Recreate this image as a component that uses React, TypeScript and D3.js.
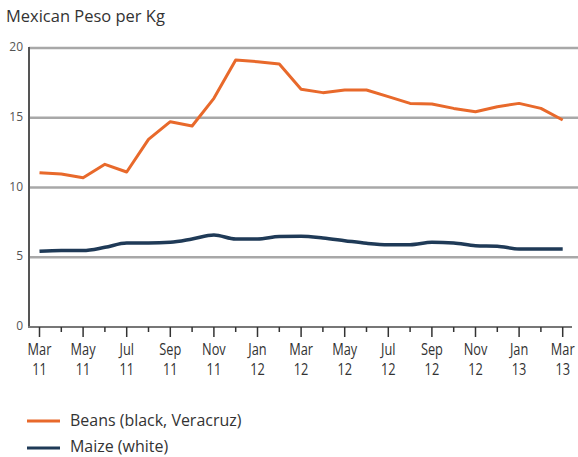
import React from "react";
import * as d3 from "d3";

const months = ["Mar","Apr","May","Jun","Jul","Aug","Sep","Oct","Nov","Dec","Jan","Feb","Mar","Apr","May","Jun","Jul","Aug","Sep","Oct","Nov","Dec","Jan","Feb","Mar"];
const years = ["11","11","11","11","11","11","11","11","11","11","12","12","12","12","12","12","12","12","12","12","12","12","13","13","13"];
const beans = [11.06,10.97,10.7,11.66,11.11,13.45,14.72,14.41,16.39,19.14,19.02,18.85,17.04,16.8,16.99,16.99,16.51,16.03,15.99,15.67,15.43,15.79,16.03,15.67,14.84];
const maize = [5.43,5.48,5.48,5.71,6.02,6.02,6.07,6.31,6.6,6.31,6.31,6.48,6.5,6.38,6.19,6.0,5.9,5.9,6.07,6.02,5.83,5.79,5.6,5.6,5.6];
const yTicks = [0,5,10,15,20];
const seriesNames = ["Beans (black, Veracruz)","Maize (white)"];
const colors = ["#e8692b","#1f3a57"];

const W = 578, H = 457;
const FONT = "'Open Sans', 'Noto Sans', sans-serif";

export default function App() {
  const idx = d3.range(months.length);
  const x = d3.scaleLinear().domain([0, months.length - 1]).range([39.5, 562.7]);
  const y = d3.scaleLinear().domain([0, 20]).range([327, 48]);
  const beansLine = d3.line<number>().x((_, i) => x(i)).y(d => y(d)).curve(d3.curveLinear);
  const maizeLine = d3.line<number>().x((_, i) => x(i)).y(d => y(d)).curve(d3.curveMonotoneX);
  return (
    <svg width={W} height={H} style={{ position: "absolute", left: 0, top: 0, background: "#fff" }}>
      <text x={6} y={22} fontFamily={FONT} fontSize={17} fill="#333" transform="translate(6,0) scale(0.97,1) translate(-6,0)">Mexican Peso per Kg</text>
      {yTicks.filter(t => t > 0).map(t => (
        <line key={t} x1={29} x2={578} y1={y(t)} y2={y(t)} stroke="#a8a8a8" strokeWidth={2.5} />
      ))}
      {yTicks.map(t => (
        <text key={"l" + t} x={23} y={y(t) + 3} textAnchor="end" fontFamily={FONT} fontSize={12} fill="#555">{t}</text>
      ))}
      <line x1={29} x2={29} y1={47} y2={328} stroke="#555" strokeWidth={2} />
      <line x1={28} x2={572} y1={327} y2={327} stroke="#777" strokeWidth={2} />
      {idx.map(i => (
        <line key={"t" + i} x1={x(i)} x2={x(i)} y1={327} y2={i % 2 === 0 ? 337 : 332} stroke="#333" strokeWidth={1.5} />
      ))}
      {idx.filter(i => i % 2 === 0).map(i => (
        <g key={"xl" + i} transform={`translate(${x(i)},0) scale(0.8,1)`}>
          <text x={0} y={355} textAnchor="middle" fontFamily={FONT} fontSize={16} fill="#333">{months[i]}</text>
          <text x={0} y={375} textAnchor="middle" fontFamily={FONT} fontSize={16} fill="#333">{years[i]}</text>
        </g>
      ))}
      <path d={maizeLine(maize) || ""} fill="none" stroke={colors[1]} strokeWidth={3.5} strokeLinejoin="round" />
      <path d={beansLine(beans) || ""} fill="none" stroke={colors[0]} strokeWidth={3} strokeLinejoin="round" />
      {seriesNames.map((n, k) => (
        <g key={n}>
          <line x1={27} x2={60} y1={421 + k * 27} y2={421 + k * 27} stroke={colors[k]} strokeWidth={3} />
          <text x={70} y={426 + k * 26} fontFamily={FONT} fontSize={17} fill="#333" transform={`translate(70,0) scale(0.94,1) translate(-70,0)`}>{n}</text>
        </g>
      ))}
    </svg>
  );
}
